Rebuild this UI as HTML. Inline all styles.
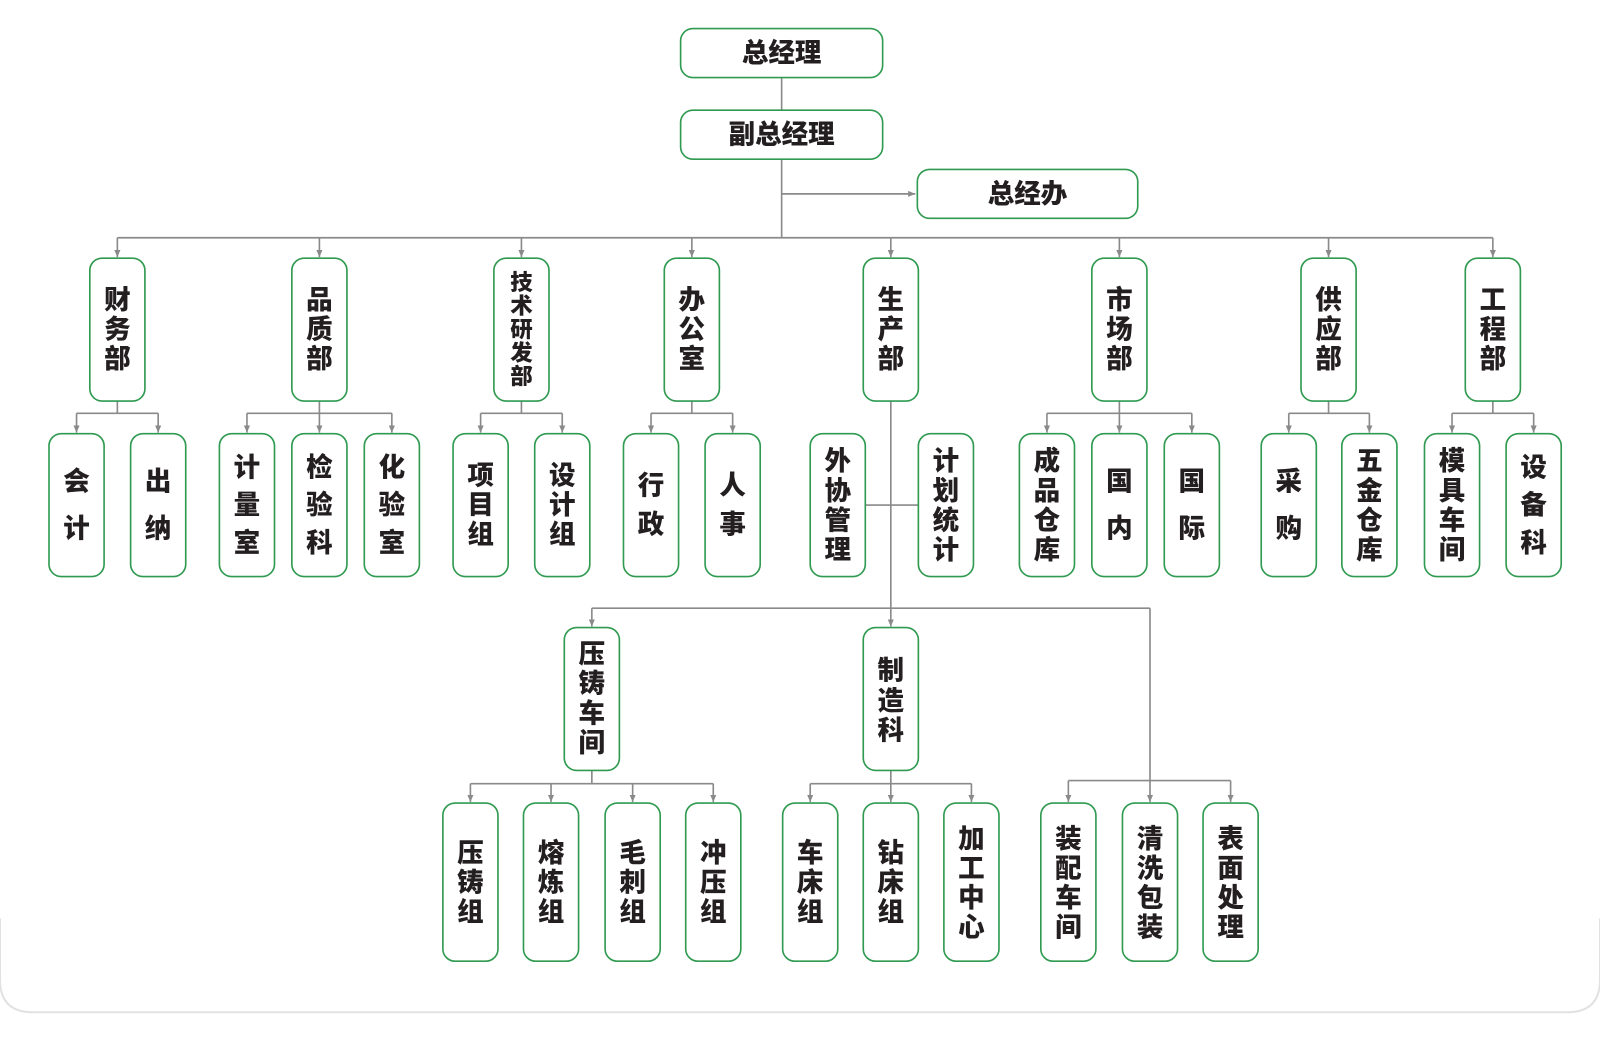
<!DOCTYPE html>
<html><head><meta charset="utf-8"><style>
html,body{margin:0;padding:0;background:#fff;width:1600px;height:1051px;overflow:hidden}
svg{display:block}
text{font-family:"Liberation Sans","Noto Sans CJK SC",sans-serif;font-weight:900;fill:#231f20;text-anchor:middle;dominant-baseline:central;font-size:26px}
.b{fill:#fff;stroke:#2f9a50;stroke-width:1.6}
.l{stroke:#8a8a8a;stroke-width:1.6;fill:none}
.a{stroke:#8a8a8a;stroke-width:1.6;fill:none;marker-end:url(#ar)}
</style></head><body>
<svg width="1600" height="1051" viewBox="0 0 1568 1030">
<defs><marker id="ar" markerWidth="8" markerHeight="8" refX="7" refY="4" orient="auto" markerUnits="userSpaceOnUse"><path d="M0,1 L7,4 L0,7 Z" fill="#8a8a8a"/></marker></defs>
<path d="M0,900 L0,960 Q0,992 32,992 L1536,992 Q1568,992 1568,960 L1568,900" fill="none" stroke="#e2e2e2" stroke-width="2"/>
<path class="l" d="M766,76 V108 M766,156 V233 M115,233 H1463"/>
<path class="a" d="M766,190 H897"/>
<path class="a" d="M115,233 V252"/><path class="a" d="M313,233 V252"/><path class="a" d="M511,233 V252"/><path class="a" d="M678,233 V252"/><path class="a" d="M873,233 V252"/><path class="a" d="M1097,233 V252"/><path class="a" d="M1302,233 V252"/><path class="a" d="M1463,233 V252"/>
<path class="l" d="M115,393 V405 M75,405 H155 M313,393 V405 M242,405 H384 M511,393 V405 M471,405 H551 M678,393 V405 M638,405 H718 M1097,393 V405 M1026,405 H1168 M1302,393 V405 M1263,405 H1342 M1463,393 V405 M1423,405 H1503"/>
<path class="a" d="M75,405 V424"/><path class="a" d="M155,405 V424"/><path class="a" d="M242,405 V424"/><path class="a" d="M313,405 V424"/><path class="a" d="M384,405 V424"/><path class="a" d="M471,405 V424"/><path class="a" d="M551,405 V424"/><path class="a" d="M638,405 V424"/><path class="a" d="M718,405 V424"/><path class="a" d="M1026,405 V424"/><path class="a" d="M1097,405 V424"/><path class="a" d="M1168,405 V424"/><path class="a" d="M1263,405 V424"/><path class="a" d="M1342,405 V424"/><path class="a" d="M1423,405 V424"/><path class="a" d="M1503,405 V424"/>
<path class="l" d="M873,393 V596 M848,495 H900 M580,596 H1127"/>
<path class="a" d="M580,596 V614"/><path class="a" d="M873,596 V614"/><path class="a" d="M1127,596 V786"/>
<path class="l" d="M580,755 V768 M461,768 H699 M873,755 V768 M794,768 H952 M1047,765 H1206"/>
<path class="a" d="M461,768 V786"/><path class="a" d="M540,768 V786"/><path class="a" d="M620,768 V786"/><path class="a" d="M699,768 V786"/><path class="a" d="M794,768 V786"/><path class="a" d="M873,768 V786"/><path class="a" d="M952,768 V786"/><path class="a" d="M1047,765 V786"/><path class="a" d="M1206,765 V786"/>
<rect class="b" x="667" y="28" width="198" height="48" rx="12"/><text x="766" y="52">总经理</text>
<rect class="b" x="667" y="108" width="198" height="48" rx="12"/><text x="766" y="132">副总经理</text>
<rect class="b" x="899" y="166" width="216" height="48" rx="12"/><text x="1007" y="190">总经办</text>
<rect class="b" x="88" y="253" width="54" height="140" rx="12"/><text x="115" y="294">财</text><text x="115" y="323">务</text><text x="115" y="352">部</text>
<rect class="b" x="286" y="253" width="54" height="140" rx="12"/><text x="313" y="294">品</text><text x="313" y="323">质</text><text x="313" y="352">部</text>
<rect class="b" x="484" y="253" width="54" height="140" rx="12"/><text x="511" y="277" style="font-size:22px">技</text><text x="511" y="300" style="font-size:22px">术</text><text x="511" y="323" style="font-size:22px">研</text><text x="511" y="346" style="font-size:22px">发</text><text x="511" y="369" style="font-size:22px">部</text>
<rect class="b" x="651" y="253" width="54" height="140" rx="12"/><text x="678" y="294">办</text><text x="678" y="323">公</text><text x="678" y="352">室</text>
<rect class="b" x="846" y="253" width="54" height="140" rx="12"/><text x="873" y="294">生</text><text x="873" y="323">产</text><text x="873" y="352">部</text>
<rect class="b" x="1070" y="253" width="54" height="140" rx="12"/><text x="1097" y="294">市</text><text x="1097" y="323">场</text><text x="1097" y="352">部</text>
<rect class="b" x="1275" y="253" width="54" height="140" rx="12"/><text x="1302" y="294">供</text><text x="1302" y="323">应</text><text x="1302" y="352">部</text>
<rect class="b" x="1436" y="253" width="54" height="140" rx="12"/><text x="1463" y="294">工</text><text x="1463" y="323">程</text><text x="1463" y="352">部</text>
<rect class="b" x="48" y="425" width="54" height="140" rx="12"/><text x="75" y="472">会</text><text x="75" y="518">计</text>
<rect class="b" x="128" y="425" width="54" height="140" rx="12"/><text x="155" y="472">出</text><text x="155" y="518">纳</text>
<rect class="b" x="215" y="425" width="54" height="140" rx="12"/><text x="242" y="458">计</text><text x="242" y="495">量</text><text x="242" y="532">室</text>
<rect class="b" x="286" y="425" width="54" height="140" rx="12"/><text x="313" y="458">检</text><text x="313" y="495">验</text><text x="313" y="532">科</text>
<rect class="b" x="357" y="425" width="54" height="140" rx="12"/><text x="384" y="458">化</text><text x="384" y="495">验</text><text x="384" y="532">室</text>
<rect class="b" x="444" y="425" width="54" height="140" rx="12"/><text x="471" y="466">项</text><text x="471" y="495">目</text><text x="471" y="524">组</text>
<rect class="b" x="524" y="425" width="54" height="140" rx="12"/><text x="551" y="466">设</text><text x="551" y="495">计</text><text x="551" y="524">组</text>
<rect class="b" x="611" y="425" width="54" height="140" rx="12"/><text x="638" y="476">行</text><text x="638" y="514">政</text>
<rect class="b" x="691" y="425" width="54" height="140" rx="12"/><text x="718" y="476">人</text><text x="718" y="514">事</text>
<rect class="b" x="794" y="425" width="54" height="140" rx="12"/><text x="821" y="452">外</text><text x="821" y="481">协</text><text x="821" y="510">管</text><text x="821" y="539">理</text>
<rect class="b" x="900" y="425" width="54" height="140" rx="12"/><text x="927" y="452">计</text><text x="927" y="481">划</text><text x="927" y="510">统</text><text x="927" y="539">计</text>
<rect class="b" x="999" y="425" width="54" height="140" rx="12"/><text x="1026" y="452">成</text><text x="1026" y="481">品</text><text x="1026" y="510">仓</text><text x="1026" y="539">库</text>
<rect class="b" x="1070" y="425" width="54" height="140" rx="12"/><text x="1097" y="472">国</text><text x="1097" y="518">内</text>
<rect class="b" x="1141" y="425" width="54" height="140" rx="12"/><text x="1168" y="472">国</text><text x="1168" y="518">际</text>
<rect class="b" x="1236" y="425" width="54" height="140" rx="12"/><text x="1263" y="472">采</text><text x="1263" y="518">购</text>
<rect class="b" x="1315" y="425" width="54" height="140" rx="12"/><text x="1342" y="452">五</text><text x="1342" y="481">金</text><text x="1342" y="510">仓</text><text x="1342" y="539">库</text>
<rect class="b" x="1396" y="425" width="54" height="140" rx="12"/><text x="1423" y="452">模</text><text x="1423" y="481">具</text><text x="1423" y="510">车</text><text x="1423" y="539">间</text>
<rect class="b" x="1476" y="425" width="54" height="140" rx="12"/><text x="1503" y="458">设</text><text x="1503" y="495">备</text><text x="1503" y="532">科</text>
<rect class="b" x="553" y="615" width="54" height="140" rx="12"/><text x="580" y="641">压</text><text x="580" y="670">铸</text><text x="580" y="699">车</text><text x="580" y="728">间</text>
<rect class="b" x="846" y="615" width="54" height="140" rx="12"/><text x="873" y="657">制</text><text x="873" y="687">造</text><text x="873" y="716">科</text>
<rect class="b" x="434" y="787" width="54" height="155" rx="12"/><text x="461" y="836">压</text><text x="461" y="865">铸</text><text x="461" y="894">组</text>
<rect class="b" x="513" y="787" width="54" height="155" rx="12"/><text x="540" y="836">熔</text><text x="540" y="865">炼</text><text x="540" y="894">组</text>
<rect class="b" x="593" y="787" width="54" height="155" rx="12"/><text x="620" y="836">毛</text><text x="620" y="865">刺</text><text x="620" y="894">组</text>
<rect class="b" x="672" y="787" width="54" height="155" rx="12"/><text x="699" y="836">冲</text><text x="699" y="865">压</text><text x="699" y="894">组</text>
<rect class="b" x="767" y="787" width="54" height="155" rx="12"/><text x="794" y="836">车</text><text x="794" y="865">床</text><text x="794" y="894">组</text>
<rect class="b" x="846" y="787" width="54" height="155" rx="12"/><text x="873" y="836">钻</text><text x="873" y="865">床</text><text x="873" y="894">组</text>
<rect class="b" x="925" y="787" width="54" height="155" rx="12"/><text x="952" y="822">加</text><text x="952" y="851">工</text><text x="952" y="880">中</text><text x="952" y="909">心</text>
<rect class="b" x="1020" y="787" width="54" height="155" rx="12"/><text x="1047" y="822">装</text><text x="1047" y="851">配</text><text x="1047" y="880">车</text><text x="1047" y="909">间</text>
<rect class="b" x="1100" y="787" width="54" height="155" rx="12"/><text x="1127" y="822">清</text><text x="1127" y="851">洗</text><text x="1127" y="880">包</text><text x="1127" y="909">装</text>
<rect class="b" x="1179" y="787" width="54" height="155" rx="12"/><text x="1206" y="822">表</text><text x="1206" y="851">面</text><text x="1206" y="880">处</text><text x="1206" y="909">理</text>
</svg>
</body></html>
